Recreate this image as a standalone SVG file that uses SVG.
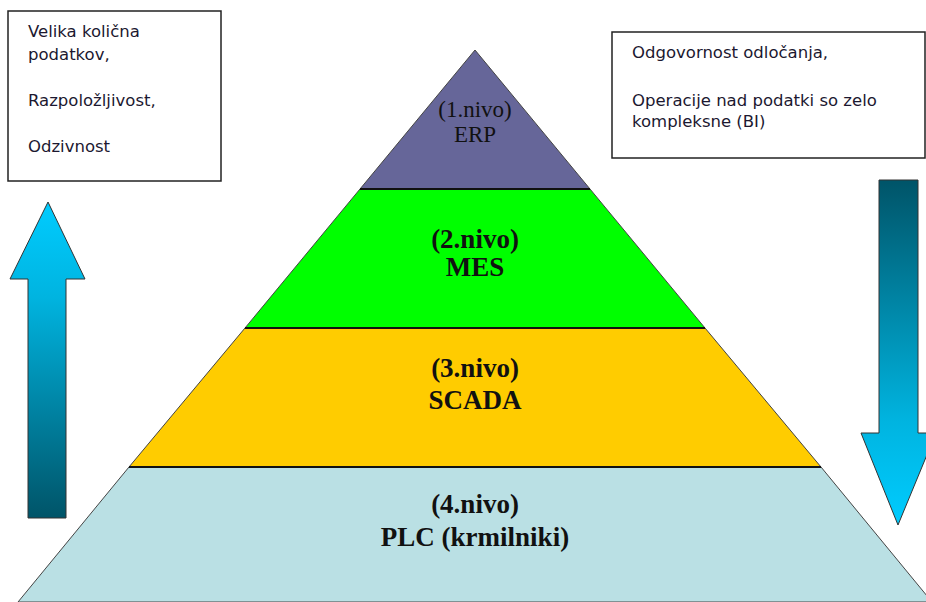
<svg xmlns="http://www.w3.org/2000/svg" width="926" height="602" viewBox="0 0 926 602">
<defs>
<linearGradient id="gUp" x1="0" y1="0" x2="0" y2="1">
<stop offset="0" stop-color="#00ccff"/>
<stop offset="0.3" stop-color="#00b4e0"/>
<stop offset="1" stop-color="#005468"/>
</linearGradient>
<linearGradient id="gDown" x1="0" y1="0" x2="0" y2="1">
<stop offset="0" stop-color="#005468"/>
<stop offset="0.7" stop-color="#00b4e0"/>
<stop offset="1" stop-color="#00ccff"/>
</linearGradient>
</defs>
<style>
.box{fill:#ffffff;stroke:#222;stroke-width:1.5}
.bt{font-family:"DejaVu Sans","Liberation Sans",sans-serif;font-size:16.5px;fill:#1c1830}
.lvl{stroke:#444;stroke-width:1}
.sep{stroke:#111;stroke-width:2}
.pt{font-family:"Liberation Serif","Times New Roman",serif;fill:#111;text-anchor:middle}
.pb{font-weight:bold;font-size:27px}
.arr{stroke:#333;stroke-width:1}
</style>
<rect width="926" height="602" fill="#ffffff"/>

<g id="plc">
<polygon class="lvl" points="129,467 821,467 932,602 18,602" fill="#bae0e4"/>
<text class="pt pb" x="475" y="513">(4.nivo)</text>
<text class="pt pb" x="475" y="546">PLC (krmilniki)</text>
</g>
<g id="scada">
<polygon class="lvl" points="245,328 705,328 821,467 129,467" fill="#ffcc00"/>
<text class="pt pb" x="475" y="377">(3.nivo)</text>
<text class="pt pb" x="475" y="409">SCADA</text>
</g>
<g id="mes">
<polygon class="lvl" points="360,189 590,189 705,328 245,328" fill="#00ff00"/>
<text class="pt pb" x="475" y="248">(2.nivo)</text>
<text class="pt pb" x="475" y="276">MES</text>
</g>
<g id="erp">
<polygon class="lvl" points="475,50 590,189 360,189" fill="#666699"/>
<text class="pt" x="475" y="117" font-size="23">(1.nivo)</text>
<text class="pt" x="475" y="142" font-size="23">ERP</text>
</g>
<g id="separators">
<line class="sep" x1="360" y1="189" x2="590" y2="189"/>
<line class="sep" x1="245" y1="328" x2="705" y2="328"/>
<line class="sep" x1="129" y1="467" x2="821" y2="467"/>
</g>

<g id="left-box">
<rect class="box" x="8" y="11" width="213" height="170"/>
<text class="bt" x="28" y="37">Velika količna</text>
<text class="bt" x="28" y="60">podatkov,</text>
<text class="bt" x="28" y="106">Razpoložljivost,</text>
<text class="bt" x="28" y="152">Odzivnost</text>
</g>
<g id="right-box">
<rect class="box" x="612" y="32" width="313" height="126"/>
<text class="bt" x="632" y="58">Odgovornost odločanja,</text>
<text class="bt" x="632" y="106">Operacije nad podatki so zelo</text>
<text class="bt" x="632" y="127">kompleksne (BI)</text>
</g>

<g id="connectors">
<polygon id="arrow-up" class="arr" fill="url(#gUp)" points="48,202 85,279 66,279 66,518 28,518 28,279 10,279"/>
<polygon id="arrow-down" class="arr" fill="url(#gDown)" points="879,180 918,180 918,433 936,433 898,525 861,433 879,433"/>
</g>
</svg>
